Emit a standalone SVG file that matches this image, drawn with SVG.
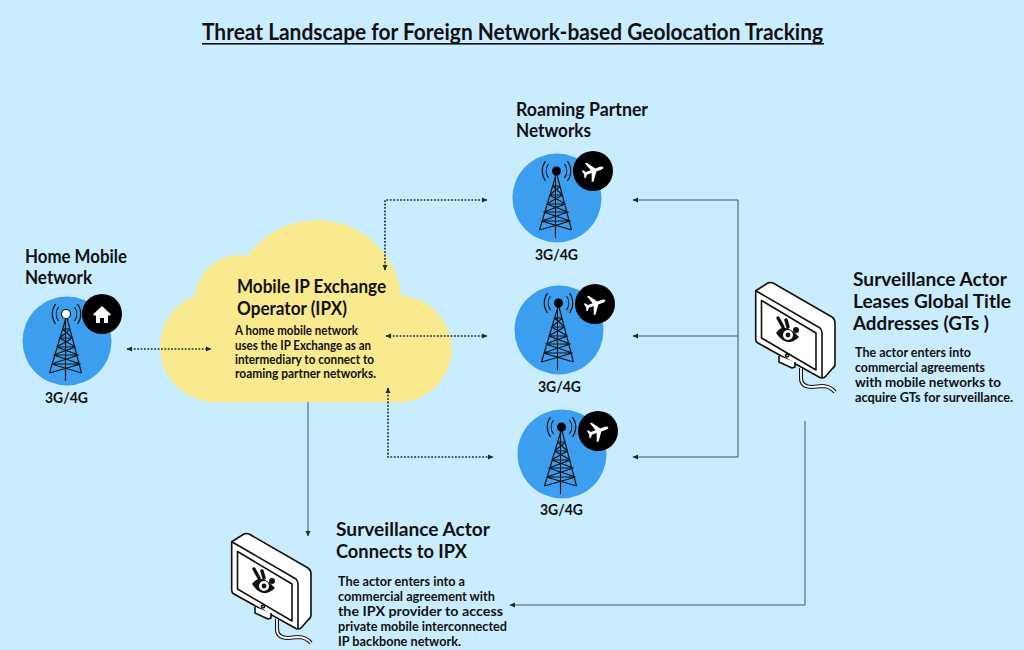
<svg xmlns="http://www.w3.org/2000/svg" xmlns:xlink="http://www.w3.org/1999/xlink" width="1024" height="650" viewBox="0 0 1024 650">
<style>
text{font-family:Lato,"Noto Sans","Liberation Sans",sans-serif;font-weight:700;fill:#111;}
.h{font-size:19px;}
.s{font-size:13.500px;}
.g{font-size:16px;}
.t{font-size:23px;}
.dot{fill:none;stroke:#1d2b3a;stroke-width:1.6;stroke-dasharray:1.8 1.6;}
.sol{fill:none;stroke:#4a5560;stroke-width:1;}
.blue{fill:#3b9eee;}
.tw{fill:none;stroke:#111;stroke-width:1.100;}
.mon{fill:#fff;stroke:#111;stroke-width:1.600;stroke-linejoin:round;}
.cl{fill:#f9e98f;}
</style>
<defs>
<marker id="ah" viewBox="0 0 6 6" refX="5" refY="3" markerWidth="6" markerHeight="6" orient="auto-start-reverse" markerUnits="userSpaceOnUse"><path d="M0,0.5L5.5,3L0,5.5z" fill="#1d2b3a"/></marker>
<g id="tower">
<path class="tw" d="M0,-25L-17,32M0,-25L15,32M-1,-25V40M-4,-12H4M-7,-3H6M-10,6H9M-13,14H12M-15,23H14M-17,32L14,23M15,32L-15,23M-15,23L12,14M14,23L-13,14M-13,14L9,6M12,14L-10,6M-10,6L6,-3M9,6L-7,-3M-7,-3L4,-12M6,-3L-4,-12"/>
<path class="tw" d="M-8,-34A12,12 0 0 0 -8,-20M8,-34A12,12 0 0 1 8,-20M-11,-37A17,17 0 0 0 -11,-17M11,-37A17,17 0 0 1 11,-17"/>
</g>
<g id="plane">
<path fill="#fff" transform="rotate(70)" d="M0,-11Q1.500,-11 1.500,-8V-3L10,3V5L1.500,2V7L4,9V10.500L0,9.500L-4,10.500V9L-1.500,7V2L-10,5V3L-1.500,-3V-8Q-1.500,-11 0,-11z"/>
</g>
<g id="monitor">
<path class="mon" d="M15.700,20.700L28,13Q30,12 33,13L92,47Q95,49 95,53V94Q95,97 92,99L85,107Q82,109 79,107L18,73Q15.700,72 15.700,69z"/>
<path class="mon" fill="none" d="M15.700,20.700L80,58Q82,60 82,63V108"/>
<path class="mon" d="M21.500,30.500L76,63V100L21.500,68z"/>
<path class="mon" d="M39,86V92L52,98L55,97V92"/>
<circle class="mon" cx="47" cy="85.500" r="1.500"/>
<path fill="none" stroke="#111" stroke-width="4" d="M61,98V108Q61,117 72,117L82,116Q90,116 95,122"/>
<path fill="none" stroke="#fff" stroke-width="1.800" d="M61,98V108Q61,117 72,117L82,116Q90,116 95,122"/>
<path d="M36,63Q44,51 59,67Q47,79 36,63z" fill="#111"/>
<circle cx="48" cy="65" r="5" fill="#fff"/>
<circle cx="48" cy="65" r="2.400" fill="#111"/>
<path d="M38,48L43,57M46,50L48,57" stroke="#111" stroke-width="3.400" stroke-linecap="round"/>
<circle cx="56" cy="60" r="3" fill="#111"/>
</g>
</defs>
<rect width="1024" height="650" fill="#c9ecff"/>
<g id="title">
<text class="t" x="202" y="40" textLength="621" lengthAdjust="spacingAndGlyphs">Threat Landscape for Foreign Network-based Geolocation Tracking</text>
<rect x="202" y="43" width="622" height="1.600" fill="#111"/>
</g>
<g id="ipx-cloud">
<circle class="cl" cx="317" cy="305" r="85"/>
<circle class="cl" cx="240" cy="300" r="45"/>
<circle class="cl" cx="215" cy="347" r="55"/>
<circle class="cl" cx="398" cy="349" r="53.500"/>
<rect class="cl" x="215" y="300" width="183" height="102"/>
<text class="h" x="237" y="293" textLength="149" lengthAdjust="spacingAndGlyphs">Mobile IP Exchange</text>
<text class="h" x="237" y="314.500" textLength="110" lengthAdjust="spacingAndGlyphs">Operator (IPX)</text>
<text class="s" x="235" y="335" textLength="123" lengthAdjust="spacingAndGlyphs">A home mobile network</text>
<text class="s" x="235" y="349.500" textLength="136" lengthAdjust="spacingAndGlyphs">uses the IP Exchange as an</text>
<text class="s" x="235" y="364" textLength="139" lengthAdjust="spacingAndGlyphs">intermediary to connect to</text>
<text class="s" x="235" y="378" textLength="141" lengthAdjust="spacingAndGlyphs">roaming partner networks.</text>
</g>
<g id="connectors">
<path class="dot" marker-start="url(#ah)" marker-end="url(#ah)" d="M127,349H211"/>
<path class="dot" marker-start="url(#ah)" marker-end="url(#ah)" d="M385,270V200H487"/>
<path class="dot" marker-start="url(#ah)" marker-end="url(#ah)" d="M386,336H487"/>
<path class="dot" marker-start="url(#ah)" marker-end="url(#ah)" d="M388,388V457H493"/>
<path class="sol" marker-end="url(#ah)" d="M738,200H633"/>
<path class="sol" d="M738,200V457"/>
<path class="sol" marker-end="url(#ah)" d="M738,336H633"/>
<path class="sol" marker-end="url(#ah)" d="M738,457H633"/>
<path class="sol" marker-end="url(#ah)" d="M805,421V605H510"/>
<path class="sol" marker-end="url(#ah)" d="M308,402V536"/>
</g>
<g id="home-network">
<text class="h" x="25" y="263" textLength="102" lengthAdjust="spacingAndGlyphs">Home Mobile</text>
<text class="h" x="25" y="284" textLength="67" lengthAdjust="spacingAndGlyphs">Network</text>
<circle class="blue" cx="67" cy="341" r="44.500"/>
<use xlink:href="#tower" href="#tower" x="66.500" y="341"/>
<circle cx="66" cy="314" r="4.500" fill="#fff" stroke="#111" stroke-width="1.200"/>
<circle cx="102" cy="314" r="20" fill="#000"/>
<path fill="#fff" d="M102,306L111,314.500L109,316L108,315V323H104V318H100V323H96V315L95,316L93,314.500z"/>
<text class="g" x="45" y="403" textLength="43" lengthAdjust="spacingAndGlyphs">3G/4G</text>
</g>
<g id="roaming-1">
<text class="h" x="516" y="116" textLength="132" lengthAdjust="spacingAndGlyphs">Roaming Partner</text>
<text class="h" x="516" y="137" textLength="75" lengthAdjust="spacingAndGlyphs">Networks</text>
<circle class="blue" cx="557" cy="198" r="44.500"/>
<use xlink:href="#tower" href="#tower" x="556.500" y="198"/>
<circle cx="556.500" cy="171" r="4.500" fill="#000"/>
<circle cx="593" cy="171" r="20" fill="#000"/>
<use xlink:href="#plane" href="#plane" x="593" y="171"/>
<text class="g" x="535" y="260" textLength="43" lengthAdjust="spacingAndGlyphs">3G/4G</text>
</g>
<g id="roaming-2">
<circle class="blue" cx="559" cy="330" r="44.500"/>
<use xlink:href="#tower" href="#tower" x="558.500" y="330"/>
<circle cx="558.500" cy="303" r="4.500" fill="#000"/>
<circle cx="595" cy="304" r="20" fill="#000"/>
<use xlink:href="#plane" href="#plane" x="595" y="304"/>
<text class="g" x="538" y="392" textLength="43" lengthAdjust="spacingAndGlyphs">3G/4G</text>
</g>
<g id="roaming-3">
<circle class="blue" cx="562" cy="454" r="44.500"/>
<use xlink:href="#tower" href="#tower" x="561.500" y="454"/>
<circle cx="561.500" cy="427" r="4.500" fill="#000"/>
<circle cx="598" cy="431" r="20" fill="#000"/>
<use xlink:href="#plane" href="#plane" x="598" y="431"/>
<text class="g" x="540" y="515" textLength="43" lengthAdjust="spacingAndGlyphs">3G/4G</text>
</g>
<g id="actor-gt">
<use xlink:href="#monitor" href="#monitor" x="740" y="270"/>
<text class="h" x="853" y="286" textLength="154" lengthAdjust="spacingAndGlyphs">Surveillance Actor</text>
<text class="h" x="853" y="308" textLength="158" lengthAdjust="spacingAndGlyphs">Leases Global Title</text>
<text class="h" x="853" y="330" textLength="136" lengthAdjust="spacingAndGlyphs">Addresses (GTs )</text>
<text class="s" x="855" y="357" textLength="116" lengthAdjust="spacingAndGlyphs">The actor enters into</text>
<text class="s" x="855" y="372" textLength="130" lengthAdjust="spacingAndGlyphs">commercial agreements</text>
<text class="s" x="855" y="387" textLength="146" lengthAdjust="spacingAndGlyphs">with mobile networks to</text>
<text class="s" x="855" y="402" textLength="158" lengthAdjust="spacingAndGlyphs">acquire GTs for surveillance.</text>
</g>
<g id="actor-ipx">
<use xlink:href="#monitor" href="#monitor" x="216" y="521"/>
<text class="h" x="336" y="536" textLength="154" lengthAdjust="spacingAndGlyphs">Surveillance Actor</text>
<text class="h" x="336" y="558" textLength="131" lengthAdjust="spacingAndGlyphs">Connects to IPX</text>
<text class="s" x="338" y="586" textLength="127" lengthAdjust="spacingAndGlyphs">The actor enters into a</text>
<text class="s" x="338" y="601" textLength="157" lengthAdjust="spacingAndGlyphs">commercial agreement with</text>
<text class="s" x="338" y="616" textLength="165" lengthAdjust="spacingAndGlyphs">the IPX provider to access</text>
<text class="s" x="338" y="631" textLength="169" lengthAdjust="spacingAndGlyphs">private mobile interconnected</text>
<text class="s" x="338" y="646" textLength="123" lengthAdjust="spacingAndGlyphs">IP backbone network.</text>
</g>
</svg>
